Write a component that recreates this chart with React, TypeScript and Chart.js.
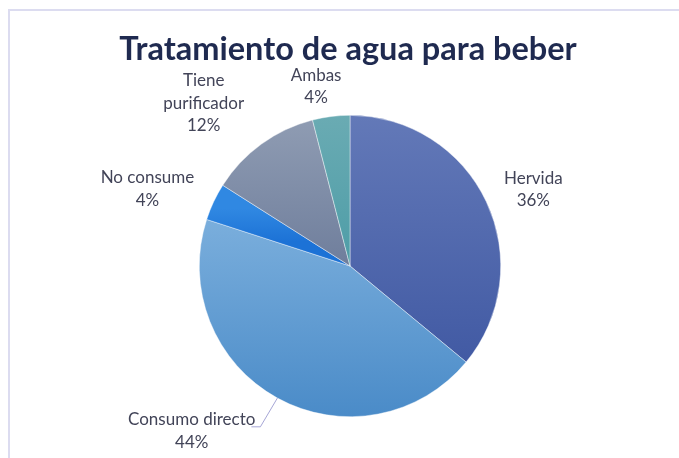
import React, { useEffect, useRef } from "react";
import { Chart, registerables } from "chart.js";

Chart.register(...registerables);

const TITLE = "Tratamiento de agua para beber";
const CATEGORIES = ["Hervida", "Consumo directo", "No consume", "Tiene purificador", "Ambas"];
const VALUES = [36, 44, 4, 12, 4];
const LABEL_LINES = [["Hervida"], ["Consumo directo"], ["No consume"], ["Tiene", "purificador"], ["Ambas"]];

// gradient stops per slice: [t, color] over pie vertical extent
const GRADIENTS: [number, string][][] = [
  [[0, "#6379b8"], [1, "#3a539f"]],
  [[0.35, "#7aaedc"], [1, "#4a8bc8"]],
  [[0.31, "#3088e2"], [0.42, "#1c72d6"]],
  [[0.03, "#8e9bb2"], [0.5, "#6f7e9c"]],
  [[0.0, "#6aabb3"], [0.5, "#4e9da7"]],
];
const FALLBACK = ["#4a63ad", "#62a0d6", "#2a7fde", "#8090a8", "#5ba6ae"];

// label layout: angle shift (deg) from slice middle, extra distance beyond radius
const LABEL_LAYOUT = [
  { shift: 2.5, extra: 48, leader: false },
  { shift: 15, extra: 78, leader: true },
  { shift: -4.4, extra: 66, leader: false },
  { shift: -6, extra: 68, leader: false },
  { shift: -3.5, extra: 32, leader: false },
];

const LABEL_FONT = "17px Lato, 'Open Sans', sans-serif";
const LABEL_COLOR = "#424458";
const LINE_H = 22.5;

const framePlugin = {
  id: "frame",
  beforeDraw(chart: any) {
    const c = chart.ctx;
    c.save();
    c.fillStyle = "#ffffff";
    c.fillRect(0, 0, chart.width, chart.height);
    c.strokeStyle = "#dcdcf0";
    c.lineWidth = 2;
    c.beginPath();
    c.moveTo(9, chart.height + 5);
    c.lineTo(9, 10);
    c.lineTo(chart.width + 5, 10);
    c.stroke();
    c.fillStyle = "#1f2a50";
    c.font = "bold 32.5px Lato, 'Open Sans', sans-serif";
    c.textAlign = "center";
    c.textBaseline = "middle";
    c.fillText(TITLE, 348, 50);
    c.restore();
  },
};

const labelPlugin = {
  id: "sliceLabels",
  afterDatasetsDraw(chart: any) {
    const c = chart.ctx;
    const meta = chart.getDatasetMeta(0);
    const data = chart.data.datasets[0].data as number[];
    const total = data.reduce((a, b) => a + b, 0);
    c.save();
    c.font = LABEL_FONT;
    c.fillStyle = LABEL_COLOR;
    c.textAlign = "center";
    c.textBaseline = "middle";
    meta.data.forEach((arc: any, i: number) => {
      const p = arc.getProps(["x", "y", "startAngle", "endAngle", "outerRadius"], true);
      const mid = (p.startAngle + p.endAngle) / 2;
      const lay = LABEL_LAYOUT[i];
      const a = mid + (lay.shift * Math.PI) / 180;
      const d = p.outerRadius + lay.extra;
      const cx = p.x + Math.cos(a) * d;
      const cy = p.y + Math.sin(a) * d;
      const lines = [...LABEL_LINES[i], Math.round((data[i] / total) * 100) + "%"];
      const top = cy - ((lines.length - 1) * LINE_H) / 2;
      lines.forEach((t, k) => c.fillText(t, cx, top + k * LINE_H));
      if (lay.leader) {
        const w = c.measureText(lines[0]).width;
        const sx = cx + w / 2 - 4;
        const sy = top + 7;
        const ex = p.x + Math.cos(mid) * p.outerRadius;
        const ey = p.y + Math.sin(mid) * p.outerRadius;
        c.strokeStyle = "#a6a6d6";
        c.lineWidth = 1;
        c.beginPath();
        c.moveTo(sx, sy);
        c.lineTo(sx + 9, sy);
        c.lineTo(ex, ey);
        c.stroke();
      }
    });
    c.restore();
  },
};

export default function App() {
  const ref = useRef<HTMLCanvasElement>(null);
  useEffect(() => {
    document.body.style.margin = "0";
    document.body.style.overflow = "hidden";
    document.documentElement.style.overflow = "hidden";
    const chart = new Chart(ref.current!, {
      type: "pie",
      data: {
        labels: CATEGORIES,
        datasets: [
          {
            data: VALUES,
            borderWidth: 0.6,
            borderColor: "rgba(255,255,255,0.7)",
            backgroundColor: (ctx: any) => {
              const i = ctx.dataIndex;
              const area = ctx.chart.chartArea;
              if (!area || i === undefined) return FALLBACK[i ?? 0];
              const g = ctx.chart.ctx.createLinearGradient(0, area.top, 0, area.bottom);
              GRADIENTS[i].forEach(([t, col]) => g.addColorStop(t, col));
              return g;
            },
          },
        ],
      },
      options: {
        animation: false,
        responsive: true,
        maintainAspectRatio: false,
        layout: { padding: { top: 115, bottom: 41, left: 199, right: 178 } },
        plugins: {
          legend: { display: false },
          title: { display: false },
          tooltip: { enabled: false },
        },
      },
      plugins: [framePlugin, labelPlugin],
    });
    return () => chart.destroy();
  }, []);
  return (
    <div style={{ width: 679, height: 458, position: "relative", overflow: "hidden" }}>
      <canvas ref={ref} />
    </div>
  );
}
